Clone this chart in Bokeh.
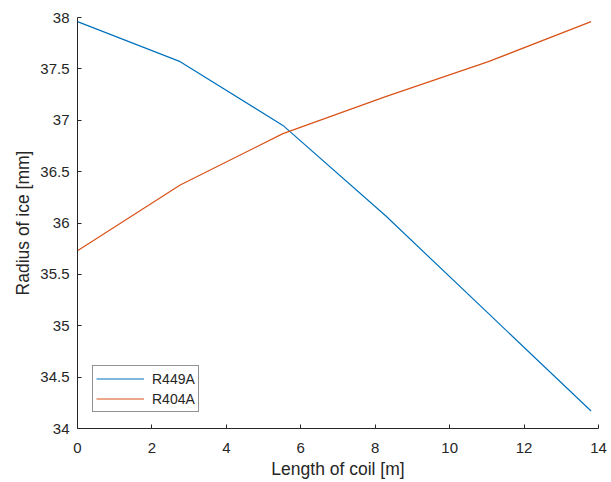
from bokeh.plotting import figure
from bokeh.models import Range1d, FixedTicker, Legend, LegendItem
from bokeh.embed import file_html
from bokeh.resources import INLINE

x_len = [0, 2.76, 5.52, 8.28, 11.04, 13.8]
r449a = [37.96, 37.57, 36.95, 36.07, 35.12, 34.17]
r404a = [35.73, 36.37, 36.87, 37.23, 37.57, 37.96]

x_ticks = [0, 2, 4, 6, 8, 10, 12, 14]
y_ticks = [34, 34.5, 35, 35.5, 36, 36.5, 37, 37.5, 38]
y_tick_labels = ["34", "34.5", "35", "35.5", "36", "36.5", "37", "37.5", "38"]

BLUE = "#0072BD"
ORANGE = "#D95319"
AX = "#262626"
FONT = "Liberation Sans"

p = figure(width=611, height=482, output_backend="svg", toolbar_location=None,
           x_range=Range1d(0, 14), y_range=Range1d(34, 38),
           min_border_left=77, min_border_right=13, min_border_top=17, min_border_bottom=54)
p.outline_line_color = None
p.xgrid.visible = False
p.ygrid.visible = False
p.background_fill_color = "white"
p.border_fill_color = "white"

l1 = p.line(x_len, r449a, line_color=BLUE, line_width=1.2)
l2 = p.line(x_len, r404a, line_color=ORANGE, line_width=1.2)

for ax in (p.xaxis[0], p.yaxis[0]):
    ax.axis_line_color = AX
    ax.axis_line_width = 1
    ax.major_tick_line_color = AX
    ax.major_tick_in = 4
    ax.major_tick_out = 0
    ax.minor_tick_line_color = None
    ax.major_label_text_color = AX
    ax.major_label_text_font = FONT
    ax.major_label_text_font_size = "15px"
    ax.axis_label_text_font = FONT
    ax.axis_label_text_font_size = "17.5px"
    ax.axis_label_text_font_style = "normal"
    ax.axis_label_text_color = AX

p.xaxis[0].ticker = FixedTicker(ticks=x_ticks)
p.yaxis[0].ticker = FixedTicker(ticks=y_ticks)
p.yaxis[0].major_label_overrides = {v: s for v, s in zip(y_ticks, y_tick_labels)}
p.xaxis[0].major_label_overrides = {v: str(v) for v in x_ticks}
p.xaxis[0].axis_label = "Length of coil [m]"
p.yaxis[0].axis_label = "Radius of ice [mm]"
p.xaxis[0].major_label_standoff = 14
p.yaxis[0].major_label_standoff = 8
p.xaxis[0].axis_label_standoff = 3
p.yaxis[0].axis_label_standoff = 4

legend = Legend(items=[LegendItem(label="R449A", renderers=[l1]),
                       LegendItem(label="R404A", renderers=[l2])],
                location=(15, 16))
legend.border_line_color = AX
legend.border_line_width = 1
legend.background_fill_color = "white"
legend.background_fill_alpha = 1
legend.label_text_font = FONT
legend.label_text_font_size = "14px"
legend.label_text_color = AX
legend.glyph_width = 48
legend.glyph_height = 19
legend.spacing = 1
legend.padding = 3
legend.margin = 0
legend.label_standoff = 8
legend.label_height = 19
p.add_layout(legend, "center")

open("out.html", "w").write(file_html(p, INLINE))
